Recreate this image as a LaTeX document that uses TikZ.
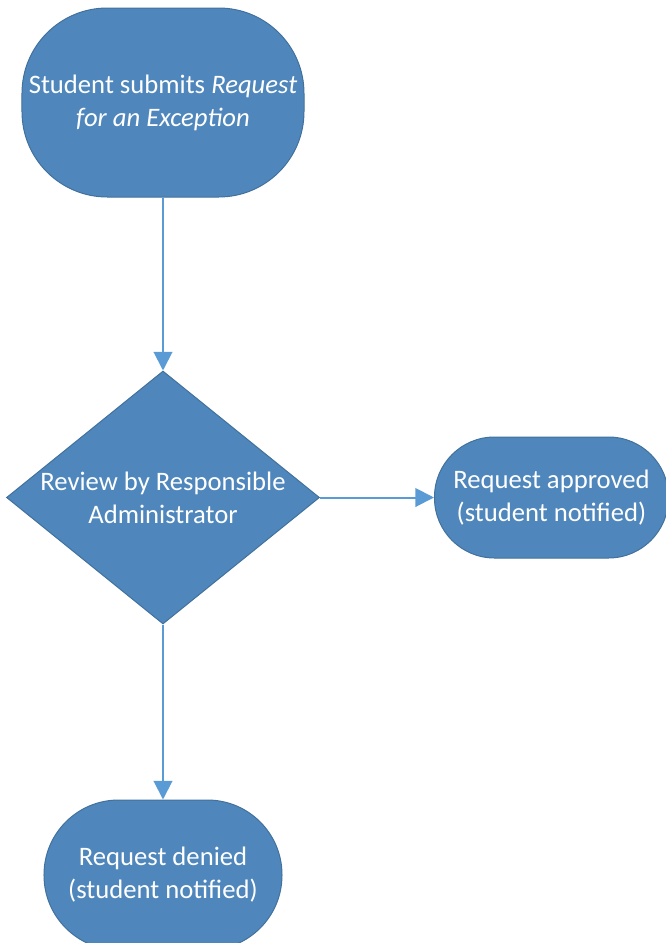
\documentclass[tikz,border=0pt]{standalone}
\usepackage{fontspec}
\setmainfont{Carlito}
\usetikzlibrary{arrows.meta,positioning,shapes.geometric}
\definecolor{shapefill}{HTML}{4F87BC}
\definecolor{shapeline}{HTML}{41719C}
\definecolor{arrowblue}{HTML}{5B9BD5}
\tikzset{
    %Define standard arrow tip
    >={Triangle[length=14pt,width=14pt]},
    %Define style for boxes
    base/.style={
           fill=shapefill,
           draw=shapeline,
           line width=0.75pt,
           text=white,
           align=center,
           font=\fontsize{20pt}{24.75pt}\selectfont},
    terminal/.style={
           base,
           rectangle,
           inner sep=2pt},
    decision/.style={
           base,
           diamond,
           shape aspect=1.27,
           inner xsep=-8pt,
           inner ysep=0pt,
           minimum width=234.75pt,
           minimum height=189.75pt},
    % Define arrow style
    pil/.style={
           ->,
           color=arrowblue,
           line width=1.5pt}
}

\begin{document}
\begin{tikzpicture}[node distance=130pt]
    \useasboundingbox (-122.25pt,76.875pt) rectangle (377.25pt,-630.375pt);
	% main path.
    \node[terminal, rounded corners=64pt, minimum width=211.5pt, minimum height=141.75pt](submit)
        {Student submits \textit{Request}\\\textit{for an Exception}};
    \node[decision, below=129.75pt of submit](review){Review by Responsible\\Administrator};
    \node[terminal, rounded corners=45pt, minimum width=175.5pt, minimum height=90.75pt,
          right=85.5pt of review](approved){Request approved\\(student notified)};
    \node[terminal, rounded corners=56pt, minimum width=178.5pt, minimum height=112.5pt,
          below=131.25pt of review](denied){Request denied\\(student notified)};

    % edges
    \path[pil] (submit) 	edge node {} (review)
               (review)		edge node {} (approved)
               (review) 	edge node {} (denied);
\end{tikzpicture}
\end{document}
